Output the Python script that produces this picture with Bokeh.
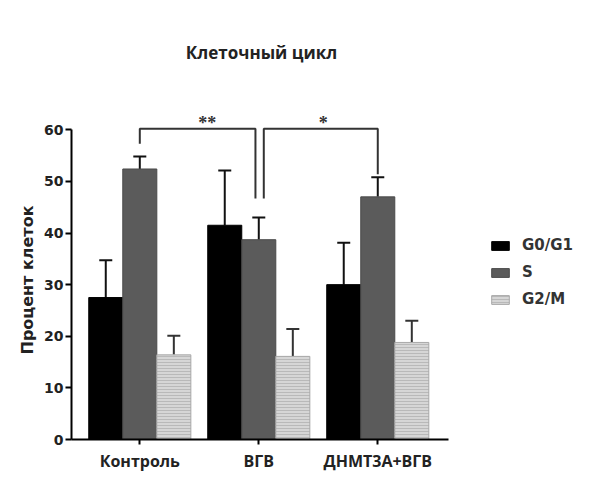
from bokeh.plotting import figure
from bokeh.models import (ColumnDataSource, Whisker, TeeHead, Label, Legend,
                          LegendItem, FixedTicker, Title)
from bokeh.embed import file_html
from bokeh.resources import INLINE

# ---- data ----
title = "Клеточный цикл"
y_label = "Процент клеток"
categories = ["Контроль", "ВГВ", "ДНМТ3А+ВГВ"]
series = ["G0/G1", "S", "G2/M"]
g0g1 = [27.5, 41.5, 30.0]
g0g1_err = [7.2, 10.6, 8.1]
s_phase = [52.4, 38.7, 47.0]
s_err = [2.4, 4.3, 3.8]
g2m = [16.4, 16.1, 18.8]
g2m_err = [3.7, 5.3, 4.2]
y_ticks = [0, 10, 20, 30, 40, 50, 60]

# significance comparisons: (from group, to group, label)
sig_pairs = [(0, 1, "**"), (1, 2, "*")]
sig_top = 60.2
sig_leg_ends = [(57.3, 46.7), (46.7, 51.4)]

# ---- style ----
colors = ["#000000", "#5b5b5b", "#d6d6d6"]
outline = ["#000000", "#4a4a4a", "#a8a8a8"]
bar_w = 0.286
offsets = [-bar_w, 0.0, bar_w]
TXT = "#222222"
X0, X1 = -0.574, 3.855

p = figure(width=598, height=474, output_backend="svg", toolbar_location=None,
           x_range=(X0, X1), y_range=(0, 80),
           min_border_left=71, min_border_right=0, min_border_top=26,
           min_border_bottom=34)
p.outline_line_color = None
p.grid.visible = False
p.background_fill_color = "white"
p.border_fill_color = "white"

xs = list(range(len(categories)))
vals = [g0g1, s_phase, g2m]
errs = [g0g1_err, s_err, g2m_err]
renderers = []
for i, (name, v, e) in enumerate(zip(series, vals, errs)):
    src = ColumnDataSource(dict(x=[x + offsets[i] for x in xs], top=v,
                                upper=[a + b for a, b in zip(v, e)]))
    kw = {}
    if i == 2:
        kw = dict(hatch_pattern="horizontal_line", hatch_color="#b9b9b9",
                  hatch_scale=3, hatch_weight=1)
    r = p.vbar(x="x", top="top", width=bar_w, bottom=0, source=src,
               fill_color=colors[i], line_color=outline[i], line_width=1, **kw)
    renderers.append(r)
    w = Whisker(base="x", lower="top", upper="upper", source=src,
                line_color="#111111" if i < 2 else "#333333", line_width=2,
                upper_head=TeeHead(size=13, line_width=2,
                                   line_color="#111111" if i < 2 else "#333333"),
                lower_head=None)
    p.add_layout(w)

# significance brackets
for (a, b, lab), (ea, eb) in zip(sig_pairs, sig_leg_ends):
    xa = a + (0.0 if a == 0 else 0.042)
    xb = b - (0.028 if b == 1 else 0.0)
    p.line([xa, xa, xb, xb], [ea, sig_top, sig_top, eb],
           line_color="#333333", line_width=2)
    p.text(x=[(xa + xb) / 2 + (0.08 if lab == "**" else 0.02)], y=[sig_top + 1.2],
           text=[lab], text_align="center", text_baseline="middle",
           text_font_size="18px", text_font_style="bold", text_color="#333333",
           text_font="Liberation Sans")

# title
p.add_layout(Label(x=1.023, y=75.0, text=title, text_align="center",
                   text_baseline="middle", text_font="Open Sans",
                   text_font_style="bold", text_font_size="17px",
                   text_color=TXT))

# axes
xa_ = p.xaxis[0]
xa_.ticker = FixedTicker(ticks=xs)
xa_.major_label_overrides = {i: c for i, c in enumerate(categories)}
xa_.bounds = (X0, 2.594)
xa_.minor_tick_line_color = None
xa_.major_tick_in = 0
xa_.major_tick_out = 5
xa_.major_label_standoff = 5
xa_.major_label_text_font = "Open Sans"
xa_.major_label_text_font_style = "bold"
xa_.major_label_text_font_size = "16px"
xa_.major_label_text_color = TXT
xa_.axis_line_width = 2
xa_.major_tick_line_width = 2

ya = p.yaxis[0]
ya.ticker = FixedTicker(ticks=y_ticks)
ya.bounds = (0, 60)
ya.minor_tick_line_color = None
ya.major_tick_in = 0
ya.major_tick_out = 6
ya.major_label_standoff = 2
ya.major_label_text_font = "DejaVu Sans"
ya.major_label_text_font_style = "bold"
ya.major_label_text_font_size = "14px"
ya.major_label_text_color = TXT
ya.axis_line_width = 2
ya.major_tick_line_width = 2

# y axis title, anchored near the bottom of the frame so it sits beside the 0-60 span
p.add_layout(Title(text=y_label, align="left", offset=85, standoff=10,
                   text_font="DejaVu Sans", text_font_style="bold",
                   text_font_size="16px", text_color=TXT), "left")

legend = Legend(items=[LegendItem(label=s, renderers=[r]) for s, r in zip(series, renderers)],
                location=(418, 131), glyph_width=22, glyph_height=11,
                label_height=16, spacing=9, padding=10, margin=0,
                label_text_font="DejaVu Sans", label_text_font_size="15px",
                label_text_font_style="bold", label_text_color="#333333",
                label_standoff=11,
                border_line_color=None, background_fill_alpha=0)
p.add_layout(legend)

open("out.html", "w").write(file_html(p, INLINE))
